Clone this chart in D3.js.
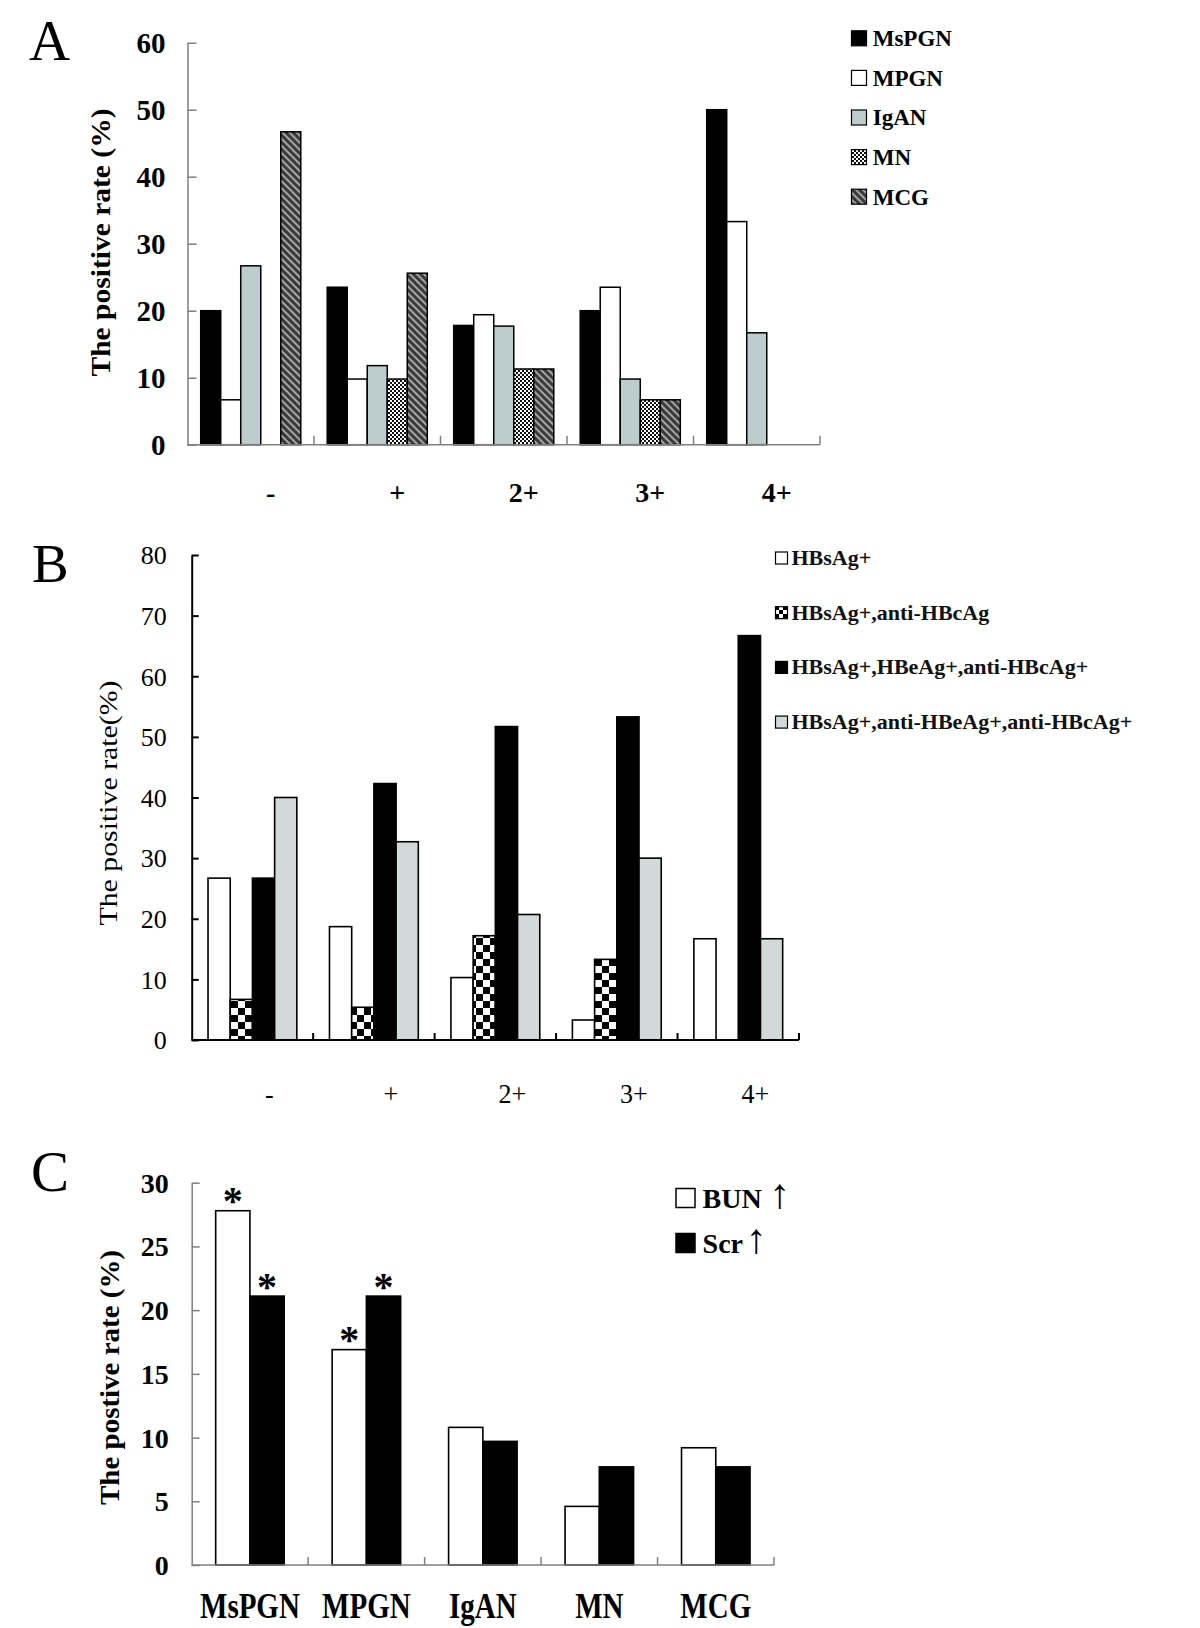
<!DOCTYPE html>
<html><head><meta charset="utf-8">
<script src="https://cdn.jsdelivr.net/npm/d3@7"></script>
<style>
body{margin:0;background:#fff}
text{font-family:"Liberation Serif","Times New Roman",serif}
</style>
</head><body>
<svg id="c" width="1200" height="1628"></svg>
<script>
// ---------- DATA ----------
// Panel A
const gradesA = ["-", "+", "2+", "3+", "4+"];
const seriesA = ["MsPGN", "MPGN", "IgAN", "MN", "MCG"];
const valMsPGN_A = [20.0, 23.5, 17.8, 20.0, 50.0];
const valMPGN_A  = [6.7, 9.8, 19.4, 23.5, 33.3];
const valIgAN_A  = [26.7, 11.8, 17.7, 9.8, 16.7];
const valMN_A    = [0, 9.8, 11.3, 6.7, 0];
const valMCG_A   = [46.7, 25.6, 11.3, 6.7, 0];
const ticksA = [0, 10, 20, 30, 40, 50, 60];

// Panel B
const gradesB = ["-", "+", "2+", "3+", "4+"];
const seriesB = ["HBsAg+", "HBsAg+,anti-HBcAg", "HBsAg+,HBeAg+,anti-HBcAg+", "HBsAg+,anti-HBeAg+,anti-HBcAg+"];
const valHBsAg_B      = [26.7, 18.7, 10.3, 3.3, 16.7];
const valAntiHBc_B    = [6.7, 5.4, 17.2, 13.3, 0];
const valHBeAg_B      = [26.7, 42.3, 51.7, 53.3, 66.7];
const valAntiHBeAg_B  = [40.0, 32.7, 20.7, 30.0, 16.7];
const ticksB = [0, 10, 20, 30, 40, 50, 60, 70, 80];

// Panel C
const typesC = ["MsPGN", "MPGN", "IgAN", "MN", "MCG"];
const seriesC = ["BUN", "Scr"];
const valBUN_C = [27.8, 16.9, 10.8, 4.6, 9.2];
const valScr_C = [21.1, 21.1, 9.7, 7.7, 7.7];
const sigBUN_C = [true, true, false, false, false];
const sigScr_C = [true, true, false, false, false];
const ticksC = [0, 5, 10, 15, 20, 25, 30];

// ---------- DRAWING ----------
const svg = d3.select("#c");
const defs = svg.append("defs");

// MN: fine checker
const pMN = defs.append("pattern").attr("id", "pMN").attr("patternUnits", "userSpaceOnUse")
  .attr("width", 4).attr("height", 4);
pMN.append("rect").attr("width", 4).attr("height", 4).attr("fill", "#fff");
pMN.append("rect").attr("width", 2).attr("height", 2).attr("fill", "#111");
pMN.append("rect").attr("x", 2).attr("y", 2).attr("width", 2).attr("height", 2).attr("fill", "#111");

// MCG: dark diagonal hatch
const pMCG = defs.append("pattern").attr("id", "pMCG").attr("patternUnits", "userSpaceOnUse")
  .attr("width", 5).attr("height", 5).attr("patternTransform", "rotate(-45)");
pMCG.append("rect").attr("width", 5).attr("height", 5).attr("fill", "#3a3a3a");
pMCG.append("rect").attr("width", 2).attr("height", 5).attr("fill", "#a5a5a5");

// B checker (coarse)
const pCHK = defs.append("pattern").attr("id", "pCHK").attr("patternUnits", "userSpaceOnUse")
  .attr("width", 14).attr("height", 14);
pCHK.append("rect").attr("width", 14).attr("height", 14).attr("fill", "#fff");
pCHK.append("rect").attr("width", 7).attr("height", 7).attr("fill", "#000");
pCHK.append("rect").attr("x", 7).attr("y", 7).attr("width", 7).attr("height", 7).attr("fill", "#000");

// small checker for legend icon
const pCHKs = defs.append("pattern").attr("id", "pCHKs").attr("patternUnits", "userSpaceOnUse")
  .attr("width", 8).attr("height", 8).attr("x", 775).attr("y", 606);
pCHKs.append("rect").attr("width", 8).attr("height", 8).attr("fill", "#fff");
pCHKs.append("rect").attr("width", 4).attr("height", 4).attr("fill", "#000");
pCHKs.append("rect").attr("x", 4).attr("y", 4).attr("width", 4).attr("height", 4).attr("fill", "#000");

function panel(o) {
  const g = svg.append("g");
  const y = d3.scaleLinear().domain([0, o.max]).range([o.yBase, o.yTop]);
  const x0 = d3.scaleBand().domain(o.cats).range([o.xLeft, o.xRight]).padding(0);
  const x1 = d3.scaleBand().domain(d3.range(o.series.length)).range([0, x0.bandwidth()])
    .paddingInner(0).paddingOuter(o.outer);

  // bars
  o.values.forEach((vals, i) => {
    const data = vals.map((v, j) => ({ v, c: o.cats[j], j })).filter(d => d.v > 0);
    g.selectAll(null).data(data).enter().append("rect")
      .attr("x", d => x0(d.c) + x1(i))
      .attr("y", d => y(d.v))
      .attr("width", x1.bandwidth())
      .attr("height", d => y(0) - y(d.v))
      .attr("fill", o.fills[i])
      .attr("stroke", "#000")
      .attr("stroke-width", o.barStroke);
    if (o.sig) {
      g.selectAll(null).data(data.filter(d => o.sig[i][d.j])).enter().append("text")
        .attr("x", d => x0(d.c) + x1(i) + x1.bandwidth() / 2)
        .attr("y", d => y(d.v) + 3.5)
        .attr("text-anchor", "middle")
        .attr("font-size", 40).attr("font-weight", "bold")
        .text("*");
    }
  });

  // y axis
  const ya = g.append("g").attr("transform", `translate(${o.xLeft},0)`)
    .call(d3.axisLeft(y).tickValues(o.ticks).tickSize(-o.tickLen).tickSizeOuter(0).tickPadding(o.tickPad));
  ya.attr("font-family", null).attr("font-size", null).attr("color", o.axisColor);
  ya.selectAll("path,line").attr("stroke-width", o.axisWidth);
  ya.selectAll("text").attr("fill", "#000").attr("font-size", o.tickFont)
    .attr("font-weight", o.tickWeight).attr("dy", "0.34em");

  // x axis baseline and category boundary ticks
  g.append("line").attr("x1", o.xLeft).attr("x2", o.xRight).attr("y1", y(0)).attr("y2", y(0))
    .attr("stroke", o.axisColor).attr("stroke-width", o.axisWidth);
  g.selectAll(null).data(o.cats).enter().append("line")
    .attr("x1", d => x0(d) + x0.bandwidth()).attr("x2", d => x0(d) + x0.bandwidth())
    .attr("y1", y(0)).attr("y2", y(0) - o.tickLen)
    .attr("stroke", o.axisColor).attr("stroke-width", o.axisWidth);

  // x labels
  const k = o.xLabelStretch || 1;
  g.selectAll(null).data(o.cats).enter().append("text")
    .attr("transform", d => `translate(${x0(d) + x0.bandwidth() / 2 + o.xLabelDx},${o.xLabelY}) scale(1,${k})`)
    .attr("text-anchor", "middle")
    .attr("font-size", o.xLabelFont).attr("font-weight", o.xLabelWeight)
    .text(d => d);

  // y label
  g.append("text")
    .attr("transform", `translate(${o.yLabelX},${o.yLabelCy}) rotate(-90)`)
    .attr("text-anchor", "middle")
    .attr("font-size", o.yLabelFont).attr("font-weight", o.yLabelWeight)
    .attr("textLength", o.yLabelLen).attr("lengthAdjust", "spacingAndGlyphs")
    .text(o.yLabel);

  // panel letter
  g.append("text").attr("x", o.letterX).attr("y", o.letterY)
    .attr("font-size", o.letterFont).text(o.letter);
  return { x0, x1, y };
}

// ---- Panel A ----
const fillsA = ["#000", "#fff", "#bdcccc", "url(#pMN)", "url(#pMCG)"];
panel({
  letter: "A", letterX: 29, letterY: 60, letterFont: 57,
  cats: gradesA, series: seriesA,
  values: [valMsPGN_A, valMPGN_A, valIgAN_A, valMN_A, valMCG_A],
  fills: fillsA, barStroke: 1.5,
  max: 60, ticks: ticksA, yTop: 42.7, yBase: 444.7, xLeft: 187.5, xRight: 820,
  outer: 0.66, axisColor: "#808080", axisWidth: 1.5, tickLen: 9,
  tickPad: 22, tickFont: 29, tickWeight: "bold",
  xLabelDx: 20, xLabelY: 502, xLabelFont: 28, xLabelWeight: "bold",
  yLabel: "The positive rate (%)", yLabelX: 110, yLabelCy: 242.5, yLabelFont: 27,
  yLabelWeight: "bold", yLabelLen: 268
});
// legend A
const legA = svg.append("g");
seriesA.forEach((s, i) => {
  const cy = 38.3 + i * 39.6;
  legA.append("rect").attr("x", 851.5).attr("y", cy - 7.5).attr("width", 15).attr("height", 15)
    .attr("fill", fillsA[i]).attr("stroke", "#000").attr("stroke-width", 1.2);
  legA.append("text").attr("x", 872.7).attr("y", cy + 7.8).attr("font-size", 23)
    .attr("font-weight", "bold").text(s);
});

// ---- Panel B ----
const fillsB = ["#fff", "url(#pCHK)", "#000", "#d2d9d9"];
panel({
  letter: "B", letterX: 32, letterY: 582, letterFont: 55,
  cats: gradesB, series: seriesB,
  values: [valHBsAg_B, valAntiHBc_B, valHBeAg_B, valAntiHBeAg_B],
  fills: fillsB, barStroke: 1.6,
  max: 80, ticks: ticksB, yTop: 555, yBase: 1040, xLeft: 191.7, xRight: 799,
  outer: 0.735, axisColor: "#000", axisWidth: 2, tickLen: 7,
  tickPad: 25, tickFont: 26, tickWeight: "normal",
  xLabelDx: 17, xLabelY: 1103, xLabelFont: 26, xLabelWeight: "normal", xLabelStretch: 1.08,
  yLabel: "The positive rate(%)", yLabelX: 117, yLabelCy: 803, yLabelFont: 25,
  yLabelWeight: "normal", yLabelLen: 245
});
const fillsBLeg = ["#fff", "url(#pCHKs)", "#000", "#d2d9d9"];
const legB = svg.append("g");
seriesB.forEach((s, i) => {
  const cy = 558 + i * 54.7;
  legB.append("rect").attr("x", 775.5).attr("y", cy - 6).attr("width", 12).attr("height", 12)
    .attr("fill", fillsBLeg[i]).attr("stroke", "#000").attr("stroke-width", 1.2);
  legB.append("text").attr("x", 791.5).attr("y", cy + 7).attr("font-size", 22)
    .attr("font-weight", "bold").attr("fill", "#111").text(s);
});

// ---- Panel C ----
const fillsC = ["#fff", "#000"];
panel({
  letter: "C", letterX: 31, letterY: 1191, letterFont: 57,
  cats: typesC, series: seriesC,
  values: [valBUN_C, valScr_C], sig: [sigBUN_C, sigScr_C],
  fills: fillsC, barStroke: 1.6,
  max: 30, ticks: ticksC, yTop: 1182.7, yBase: 1565, xLeft: 191.7, xRight: 774,
  outer: 0.70, axisColor: "#808080", axisWidth: 1.5, tickLen: 8,
  tickPad: 23, tickFont: 28, tickWeight: "bold",
  xLabelDx: 0, xLabelY: 1618, xLabelFont: 29, xLabelWeight: "bold", xLabelStretch: 1.2,
  yLabel: "The postive rate (%)", yLabelX: 118.5, yLabelCy: 1377.5, yLabelFont: 27,
  yLabelWeight: "bold", yLabelLen: 255
});
const legC = svg.append("g");
const arrowX = [769, 745.5];
seriesC.forEach((s, i) => {
  const cy = 1198 + i * 45;
  legC.append("rect").attr("x", 676).attr("y", cy - 9.5).attr("width", 19).attr("height", 19)
    .attr("fill", fillsC[i]).attr("stroke", "#000").attr("stroke-width", 1.5);
  const t = legC.append("text").attr("x", 702.6).attr("y", cy + 10).attr("font-size", 28)
    .attr("font-weight", "bold");
  t.append("tspan").text(s);
  t.append("tspan").attr("x", arrowX[i]).attr("font-weight", "normal").attr("font-size", 42).text("↑");
});
</script>
</body></html>
